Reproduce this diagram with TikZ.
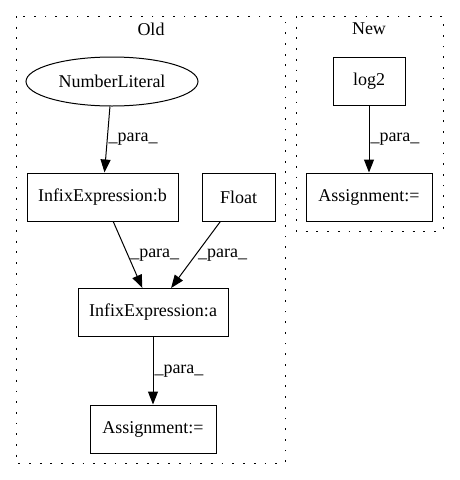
\documentclass[tikz,border=0pt]{standalone}
\usepackage{fontspec}
\setmainfont{Liberation Serif}
\usetikzlibrary{shapes.geometric,arrows.meta}

\begin{document}
\begin{tikzpicture}[x=1pt,y=-1pt,
    font=\fontsize{18}{20}\selectfont,
    boxnode/.style={draw=black,line width=1pt,rectangle,inner sep=0pt,minimum height=48pt},
    ovalnode/.style={draw=black,line width=1pt,ellipse,inner sep=0pt,minimum width=172pt,minimum height=49pt},
    para/.style={line width=1pt,-{Triangle[length=13pt,width=10pt]}},
    cluster/.style={draw=black,line width=1pt,dash pattern=on 1.8pt off 8.9pt}]
        \useasboundingbox (0,0) rectangle (459,480);

        % clusters
        \draw[cluster] (16,16) rectangle (285,463);
        \node (old) at (151,29) {Old};
        \draw[cluster] (296,16) rectangle (443,231);
        \node (new) at (369,29) {New};

        \node[ovalnode] (numlit) at (112,81.5) {NumberLiteral};
        \node[boxnode, minimum width=151pt] (infixb) at (102.5,197) {InfixExpression:b};
        \node[boxnode, minimum width=73pt] (float) at (238.5,197) {Float};
        \node[boxnode, minimum width=150pt] (infixa) at (153,312.5) {InfixExpression:a};
        \node[boxnode, minimum width=126pt] (assignold) at (153,429) {Assignment:=};
        \node[boxnode, minimum width=72pt] (logtwo) at (369,81) {log2};
        \node[boxnode, minimum width=126pt] (assignnew) at (369,197) {Assignment:=};

        \draw [para] (numlit) -- (infixb) node[midway, right, inner sep=1pt] {\_para\_};
        \draw [para] (infixb) -- (infixa) node[midway, right, inner sep=2pt] {\_para\_};
        \draw [para] (float) -- (infixa) node[midway, right, inner sep=2pt] {\_para\_};
        \draw [para] (infixa) -- (assignold) node[midway, right, inner sep=1pt] {\_para\_};
        \draw [para] (logtwo) -- (assignnew) node[midway, right, inner sep=1pt] {\_para\_};
    \end{tikzpicture}
\end{document}
